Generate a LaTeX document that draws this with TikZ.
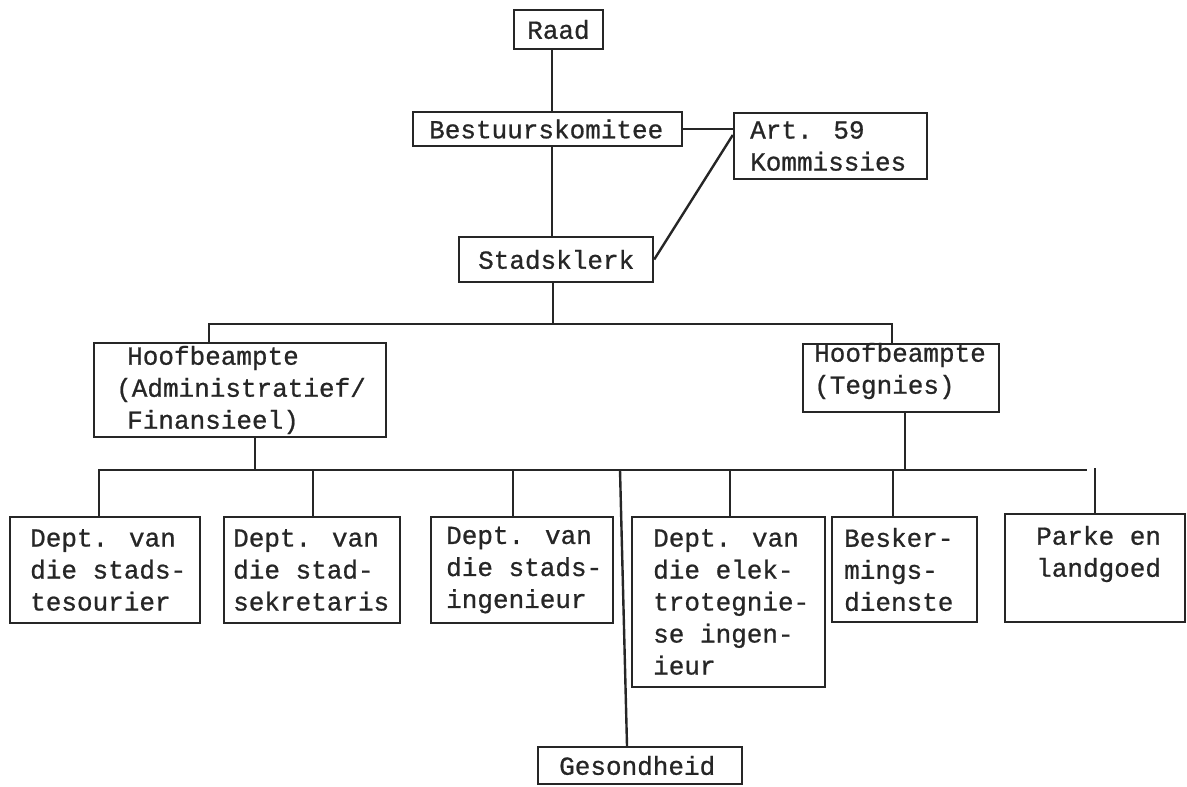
\documentclass[tikz,border=0pt]{standalone}
\usepackage{fontspec}
\newfontfamily\tw[FakeBold=0.8]{Liberation Mono}
\usetikzlibrary{fit,calc}
\tikzset{
  box/.style={draw=black!85, line width=1.2pt, inner sep=0pt, fit={#1}},
  txt/.style={inner sep=0pt, align=left, anchor=west, text=black!85,
    font=\tw\fontsize{13pt}{16pt}\selectfont},
  link/.style={draw=black!85, line width=1.2pt}
}
\begin{document}
\begin{tikzpicture}[x=0.5pt,y=-0.5pt]
\useasboundingbox (0,0) rectangle (1187,786);
% boxes
\node[box={(514,10) (603,49)}] (raad) {};
\node[txt] (raadt) at ($(raad.west)+(14,0)$) {Raad};
\node[box={(413,112) (682,146)}] (best) {};
\node[txt] (bestt) at ($(best.west)+(17,0)$) {Bestuurskomitee};
\node[box={(734,113) (927,179)}] (art) {};
\node[txt] (artt) at ($(art.west)+(17,0)$) {Art. 59\\Kommissies};
\node[box={(459,237) (653,282)}] (stad) {};
\node[txt] (stadt) at ($(stad.west)+(20,0)$) {Stadsklerk};
\node[box={(94,343) (386,437)}] (hl) {};
\node[txt] (hlt) at ($(hl.west)+(23,0)$) {\hspace*{5.5pt}Hoofbeampte\\(Administratief/\\\hspace*{5.5pt}Finansieel)};
\node[box={(803,344) (999,412)}] (hr) {};
\node[txt] (hrt) at ($(hr.west)+(12,-7)$) {Hoofbeampte\\(Tegnies)};
\node[box={(10,517) (200,623)}] (d1) {};
\node[txt] (d1t) at ($(d1.west)+(21,0)$) {Dept. van\\die stads-\\tesourier};
\node[box={(224,517) (400,623)}] (d2) {};
\node[txt] (d2t) at ($(d2.west)+(10,0)$) {Dept. van\\die stad-\\sekretaris};
\node[box={(431,517) (613,623)}] (d3) {};
\node[txt] (d3t) at ($(d3.west)+(16,0)$) {Dept. van\\die stads-\\ingenieur};
\node[box={(632,517) (825,687)}] (d4) {};
\node[txt] (d4t) at ($(d4.west)+(22,0)$) {Dept. van\\die elek-\\trotegnie-\\se ingen-\\ieur};
\node[box={(832,517) (977,622)}] (d5) {};
\node[txt] (d5t) at ($(d5.west)+(13,0)$) {Besker-\\mings-\\dienste};
\node[box={(1005,514) (1185,622)}] (d6) {};
\node[txt] (d6t) at ($(d6.west)+(32,-14)$) {Parke en\\landgoed};
\node[box={(538,747) (742,784)}] (ges) {};
\node[txt] (gest) at ($(ges.west)+(22,0)$) {Gesondheid};
% connector coordinates
\coordinate (ax) at (552,0);
\coordinate (b1c) at (553,324);
\coordinate (b1l) at (209,324);
\coordinate (b1r) at (892,324);
\coordinate (hlx) at (255,0);
\coordinate (hrx) at (905,0);
\coordinate (b2l) at (99,470);
\coordinate (b2r) at (1087,470);
\coordinate (s2) at (313,470);
\coordinate (s3) at (513,470);
\coordinate (s4) at (730,470);
\coordinate (s5) at (893,470);
\coordinate (s6) at (1095,468);
\coordinate (gtop) at (620,470);
\coordinate (gx) at (627,0);
% connectors
\draw[link] (raad.south -| ax) -- (best.north -| ax);
\draw[link] (best.south -| ax) -- (stad.north -| ax);
\draw[link] (best.east) -- (art.west |- best.east);
\draw[link] ($(art.west)+(0,-11)$) -- (stad.east);
\draw[link] (stad.south -| b1c) -- (b1c);
\draw[link] (hl.north -| b1l) -- (b1l) -- (b1r) -- (hr.north -| b1r);
\draw[link] (hl.south -| hlx) -- (hlx |- b2l);
\draw[link] (hr.south -| hrx) -- (hrx |- b2l);
\draw[link] (d1.north -| b2l) -- (b2l) -- (b2r);
\draw[link] (s2) -- (d2.north -| s2);
\draw[link] (s3) -- (d3.north -| s3);
\draw[link] (s4) -- (d4.north -| s4);
\draw[link] (s5) -- (d5.north -| s5);
\draw[link] (s6) -- (d6.north -| s6);
\draw[link] (gtop) -- (ges.north -| gx);
\end{tikzpicture}
\end{document}
